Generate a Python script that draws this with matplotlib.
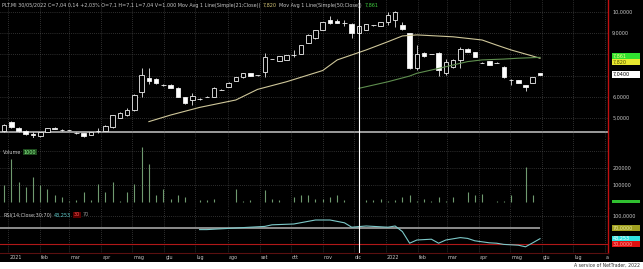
import matplotlib
matplotlib.use("Agg")

import matplotlib.pyplot as plt
import matplotlib.dates as mdates
import matplotlib.transforms as mtransforms
import pandas as pd

W, H = 643, 269

# weekly candles (Monday dated)
opens = [4.39, 4.81, 4.53, 4.39, 4.25, 4.15, 4.34, 4.53, 4.43, 4.43,
         4.29, 4.29, 4.20, 4.40, 4.39, 4.58, 5.00, 5.14, 5.38, 6.23,
         6.89, 6.84, 6.56, 6.56, 6.42, 5.99, 5.85, 5.90, 6.00, 6.00,
         6.32, 6.46, 6.75, 6.93, 7.12, 7.03, 7.17, 7.78, 7.69, 7.74,
         7.97, 8.02, 8.54, 8.77, 9.15, 9.62, 9.57, 9.48, 9.43, 9.00,
         9.15, 9.38, 9.34, 9.53, 9.62, 9.38, 9.00, 7.36, 8.07, 8.02,
         8.07, 7.12, 7.41, 7.74, 8.25, 8.11, 7.60, 7.69, 7.60, 7.41,
         6.79, 6.79, 6.56, 6.65, 7.10]
highs = [4.70, 4.85, 4.56, 4.42, 4.34, 4.36, 4.55, 4.56, 4.46, 4.45,
         4.34, 4.31, 4.36, 4.53, 4.65, 5.16, 5.26, 5.45, 6.12, 7.36,
         7.36, 6.90, 6.60, 6.60, 6.45, 6.00, 6.17, 5.93, 6.03, 6.45,
         6.35, 6.68, 6.95, 7.14, 7.14, 7.05, 8.07, 7.80, 7.94, 7.99,
         8.20, 8.46, 8.94, 9.17, 9.55, 9.80, 9.65, 9.62, 9.48, 9.40,
         9.45, 9.40, 9.55, 10.00, 10.05, 9.55, 9.02, 8.44, 8.10, 8.04,
         8.10, 7.80, 7.76, 8.35, 8.28, 8.13, 7.62, 7.71, 7.62, 7.43,
         6.85, 6.81, 6.58, 6.95, 7.10]
lows = [4.35, 4.55, 4.36, 4.20, 4.06, 4.12, 4.32, 4.48, 4.40, 4.41,
        4.25, 4.12, 4.18, 4.29, 4.37, 4.55, 4.98, 5.10, 5.35, 5.99,
        6.60, 6.60, 6.50, 6.40, 5.98, 5.68, 5.63, 5.87, 5.97, 5.98,
        6.30, 6.44, 6.73, 6.90, 6.96, 7.00, 6.93, 7.76, 7.67, 7.72,
        7.88, 8.00, 8.52, 8.75, 9.13, 9.45, 9.46, 9.34, 8.77, 8.98,
        9.13, 9.36, 9.32, 9.38, 9.29, 9.15, 7.30, 7.26, 7.90, 8.00,
        6.98, 7.05, 7.38, 7.36, 8.09, 7.86, 7.58, 7.48, 7.58, 6.91,
        6.55, 6.63, 6.29, 6.63, 7.04]
closes = [4.67, 4.58, 4.39, 4.25, 4.20, 4.34, 4.53, 4.50, 4.43, 4.43,
          4.29, 4.15, 4.34, 4.40, 4.62, 5.14, 5.24, 5.38, 6.08, 7.03,
          6.75, 6.65, 6.56, 6.42, 6.00, 5.71, 6.04, 5.90, 6.00, 6.42,
          6.32, 6.65, 6.93, 7.12, 6.98, 7.03, 7.88, 7.78, 7.92, 7.97,
          7.97, 8.44, 8.92, 9.15, 9.53, 9.48, 9.48, 9.48, 9.00, 9.34,
          9.43, 9.38, 9.53, 9.86, 10.00, 9.20, 7.36, 8.02, 7.92, 8.02,
          7.26, 7.64, 7.74, 8.25, 8.11, 7.88, 7.60, 7.50, 7.60, 6.93,
          6.79, 6.65, 6.46, 6.93, 7.04]
volumes = [98000, 255000, 118000, 88000, 147000, 98000, 78000, 39000, 29000, 5000,
           10000, 59000, 10000, 108000, 59000, 118000, 5000, 59000, 108000, 324000,
           225000, 39000, 78000, 20000, 39000, 29000, 3000, 10000, 10000, 20000,
           3000, 3000, 78000, 4000, 10000, 2000, 69000, 20000, 10000, 3000,
           29000, 39000, 39000, 20000, 20000, 29000, 39000, 10000, 3000, 2000,
           10000, 10000, 20000, 4000, 10000, 29000, 39000, 4000, 20000, 4000,
           29000, 4000, 29000, 2000, 59000, 39000, 49000, 2000, 4000, 4000,
           39000, 2000, 206000, 39000, 1000]

# indicator readings (candle number -> value)
ma21_idx = [21, 24, 28, 33, 36, 40, 45, 47, 51, 54, 56, 58, 63, 67, 69, 71, 74, 75]
ma21_val = [4.83, 5.14, 5.50, 5.85, 6.35, 6.71, 7.24, 7.74, 8.21, 8.60, 8.87, 8.92,
            8.83, 8.68, 8.44, 8.21, 7.92, 7.82]
ma50_idx = [50, 54, 57, 58, 61, 63, 65, 67, 70, 72, 75]
ma50_val = [6.40, 6.71, 6.98, 7.11, 7.34, 7.50, 7.66, 7.74, 7.78, 7.82, 7.86]
rsi_idx = [28, 29, 33, 37, 38, 41, 44, 46, 48, 49, 51, 54, 55, 56, 57, 58, 60, 61,
           62, 64, 65, 66, 68, 69, 70, 72, 73, 74, 75]
rsi_val = [66, 66, 70, 74, 78, 80, 90, 90, 83, 72, 75, 72, 75, 61, 32, 40, 42, 32,
           40, 46, 44, 38, 33, 32, 29, 27, 23, 33, 43.25]

month_labels = ["2021", "feb", "mar", "apr", "mag", "giu", "lug", "ago", "set", "ott",
                "nov", "dic", "2022", "feb", "mar", "apr", "mag", "giu", "lug", "a"]

title_parts = [
    ("PLT.MI 30/05/2022 C=7,04 0,14 +2,03% O=7,1 H=7,1 L=7,04 V=1.000 "
     "Mov Avg 1 Line(Simple(21;Close))", "#c8c8c8", None),
    ("7,820", "#d8c878", None),
    ("Mov Avg 1 Line(Simple(50;Close))", "#c8c8c8", None),
    ("7,861", "#40d040", None),
]

FS = 3.5
GRID = dict(color="#5a5a5a", linestyle=(0, (1, 2)), linewidth=0.5)

dates = pd.date_range("2020-12-28", periods=len(closes), freq="7D")
x = mdates.date2num(dates.to_pydatetime())
x_left = x[0] - 3.9
x_right = x[-1] + 65.7
cursor_x = x[49]


def rect(top, bottom):
    return [0, 1 - bottom / H, 608 / W, (bottom - top) / H]


def style(ax):
    ax.set_facecolor("black")
    for s in ("top", "left", "bottom"):
        ax.spines[s].set_visible(False)
    ax.spines["right"].set_color("#c01010")
    ax.spines["right"].set_linewidth(1.0)
    ax.yaxis.tick_right()
    ax.tick_params(axis="y", length=0, pad=3, labelsize=FS, colors="#c8c8c8")
    ax.tick_params(axis="x", length=0)
    ax.set_xlim(x_left, x_right)
    months = pd.date_range("2021-01-01", "2022-08-01", freq="MS")
    ax.set_xticks(mdates.date2num(months.to_pydatetime()))
    ax.grid(True, **GRID)
    ax.axvline(cursor_x, color="white", lw=0.8, zorder=6)


def side_box(ax, val, label, fg, bg, hpx=6.5, fs=FS):
    # value label box on the right scale, fixed pixel size
    y0, y1 = ax.get_ylim()
    ax_h = ax.get_position().height * H
    h = hpx * (y1 - y0) / ax_h
    tr = mtransforms.blended_transform_factory(ax.transAxes, ax.transData)
    ax.add_patch(plt.Rectangle((1 + 4 / 608, val - h / 2), 28 / 608, h,
                               transform=tr, facecolor=bg, edgecolor="none",
                               clip_on=False, zorder=9))
    if label:
        ax.text(1 + 5 / 608, val, label, transform=tr, fontsize=fs, color=fg,
                va="center", ha="left", zorder=10, clip_on=False)


def colored_text(fig, x_px, y_px, parts):
    renderer = fig.canvas.get_renderer()
    xp = x_px
    for s, c, bg in parts:
        kw = {}
        if bg:
            kw["bbox"] = dict(boxstyle="square,pad=0.2", fc=bg, ec="none")
        t = fig.text(xp / W, 1 - y_px / H, s, color=c, fontsize=FS,
                     va="center", ha="left", **kw)
        xp += t.get_window_extent(renderer).width + 2.5


fig = plt.figure(figsize=(W / 100, H / 100), dpi=100)
fig.patch.set_facecolor("black")

# ---- price panel ----
ax = fig.add_axes(rect(0, 138))
style(ax)
ax.set_ylim(4.057, 10.566)
ax.set_yticks([5, 6, 7, 8, 9, 10])
# 7 and 8 sit under the value boxes
ax.set_yticklabels([f"{v:.4f}".replace(".", ",") if v not in (7, 8) else ""
                    for v in [5, 6, 7, 8, 9, 10]])
ax.set_xticklabels([])
ax.axhline(4.35, color="#a8a8a8", lw=1.3, zorder=1)

ax.vlines(x, lows, highs, color="#e8e8e8", lw=0.6, zorder=2)
bottoms = [min(o, c) for o, c in zip(opens, closes)]
heights = [abs(c - o) for o, c in zip(opens, closes)]
faces = ["black" if c > o else "white" for o, c in zip(opens, closes)]
ax.bar(x, heights, bottom=bottoms, width=4.4, color=faces,
       edgecolor="#f0f0f0", linewidth=0.6, zorder=3)

ax.plot([x[i - 1] for i in ma21_idx], ma21_val, color="#cfc79a", lw=0.8, zorder=4)
ax.plot([x[i - 1] for i in ma50_idx], ma50_val, color="#5f8f4f", lw=0.8, zorder=4)

side_box(ax, 7.93, "7,861", "#f0ff80", "#30e030", hpx=6)
side_box(ax, 7.64, "7,820", "#505000", "#e8e830", hpx=6)
side_box(ax, 7.07, "7,0400", "black", "white", hpx=7)

# ---- volume panel ----
axv = fig.add_axes(rect(138, 208))
style(axv)
axv.set_ylim(-35000, 376000)
axv.set_yticks([100000, 200000, 300000])
axv.set_yticklabels(["100000", "200000", ""])
axv.set_xticklabels([])
axv.vlines(x, 0, volumes, color="#6f9a6f", lw=0.8, zorder=3)
side_box(axv, 1000, "", "#30c030", "#30c030", hpx=3)

# ---- RSI panel ----
axr = fig.add_axes(rect(208, 253))
style(axr)
axr.set_ylim(7.5, 120)
axr.set_yticks([100])
axr.set_yticklabels(["100,0000"])
axr.hlines(70, x_left, x[-1], color="#8c8c8c", lw=1.4, zorder=2)
axr.axhline(30, color="#b01818", lw=0.8, zorder=2)
axr.spines["bottom"].set_visible(True)
axr.spines["bottom"].set_color("#5a1010")
axr.plot([x[i - 1] for i in rsi_idx], rsi_val, color="#7cc8c8", lw=0.8, zorder=4)
side_box(axr, 70, "70,0000", "#e8e8a0", "#a0a020", hpx=6)
side_box(axr, 43.25, "43,253", "white", "#30e0e0", hpx=6)
side_box(axr, 30, "30,0000", "#ffa0a0", "#e01010", hpx=6)

axr.set_xticklabels(month_labels, fontsize=FS, color="#c8c8c8", ha="left")
axr.tick_params(axis="x", pad=1.5)
shift = mtransforms.ScaledTranslation(1 / 100, 0, fig.dpi_scale_trans)
for lab in axr.get_xticklabels():
    lab.set_transform(lab.get_transform() + shift)

# ---- headers ----
colored_text(fig, 2, 5, title_parts)
colored_text(fig, 3, 152, [("Volume", "#c8c8c8", None),
                           ("1000", "#90ff90", "#1d4a1d")])
colored_text(fig, 3, 215, [("RSI(14;Close;30;70)", "#c8c8c8", None),
                           ("43,253", "#60d0d0", None),
                           ("30", "#ff5050", "#5a0000"),
                           ("70", "#909090", None)])

# footer strip
fig.patches.append(plt.Rectangle((0, 0), 1, 7 / H, transform=fig.transFigure,
                                 facecolor="white", edgecolor="none", zorder=0))
fig.text(640 / W, 3.5 / H, "A service of NetTrader, 2022", fontsize=3.3,
         color="#303030", ha="right", va="center")

fig.savefig("out.png", dpi=100, facecolor="black")
